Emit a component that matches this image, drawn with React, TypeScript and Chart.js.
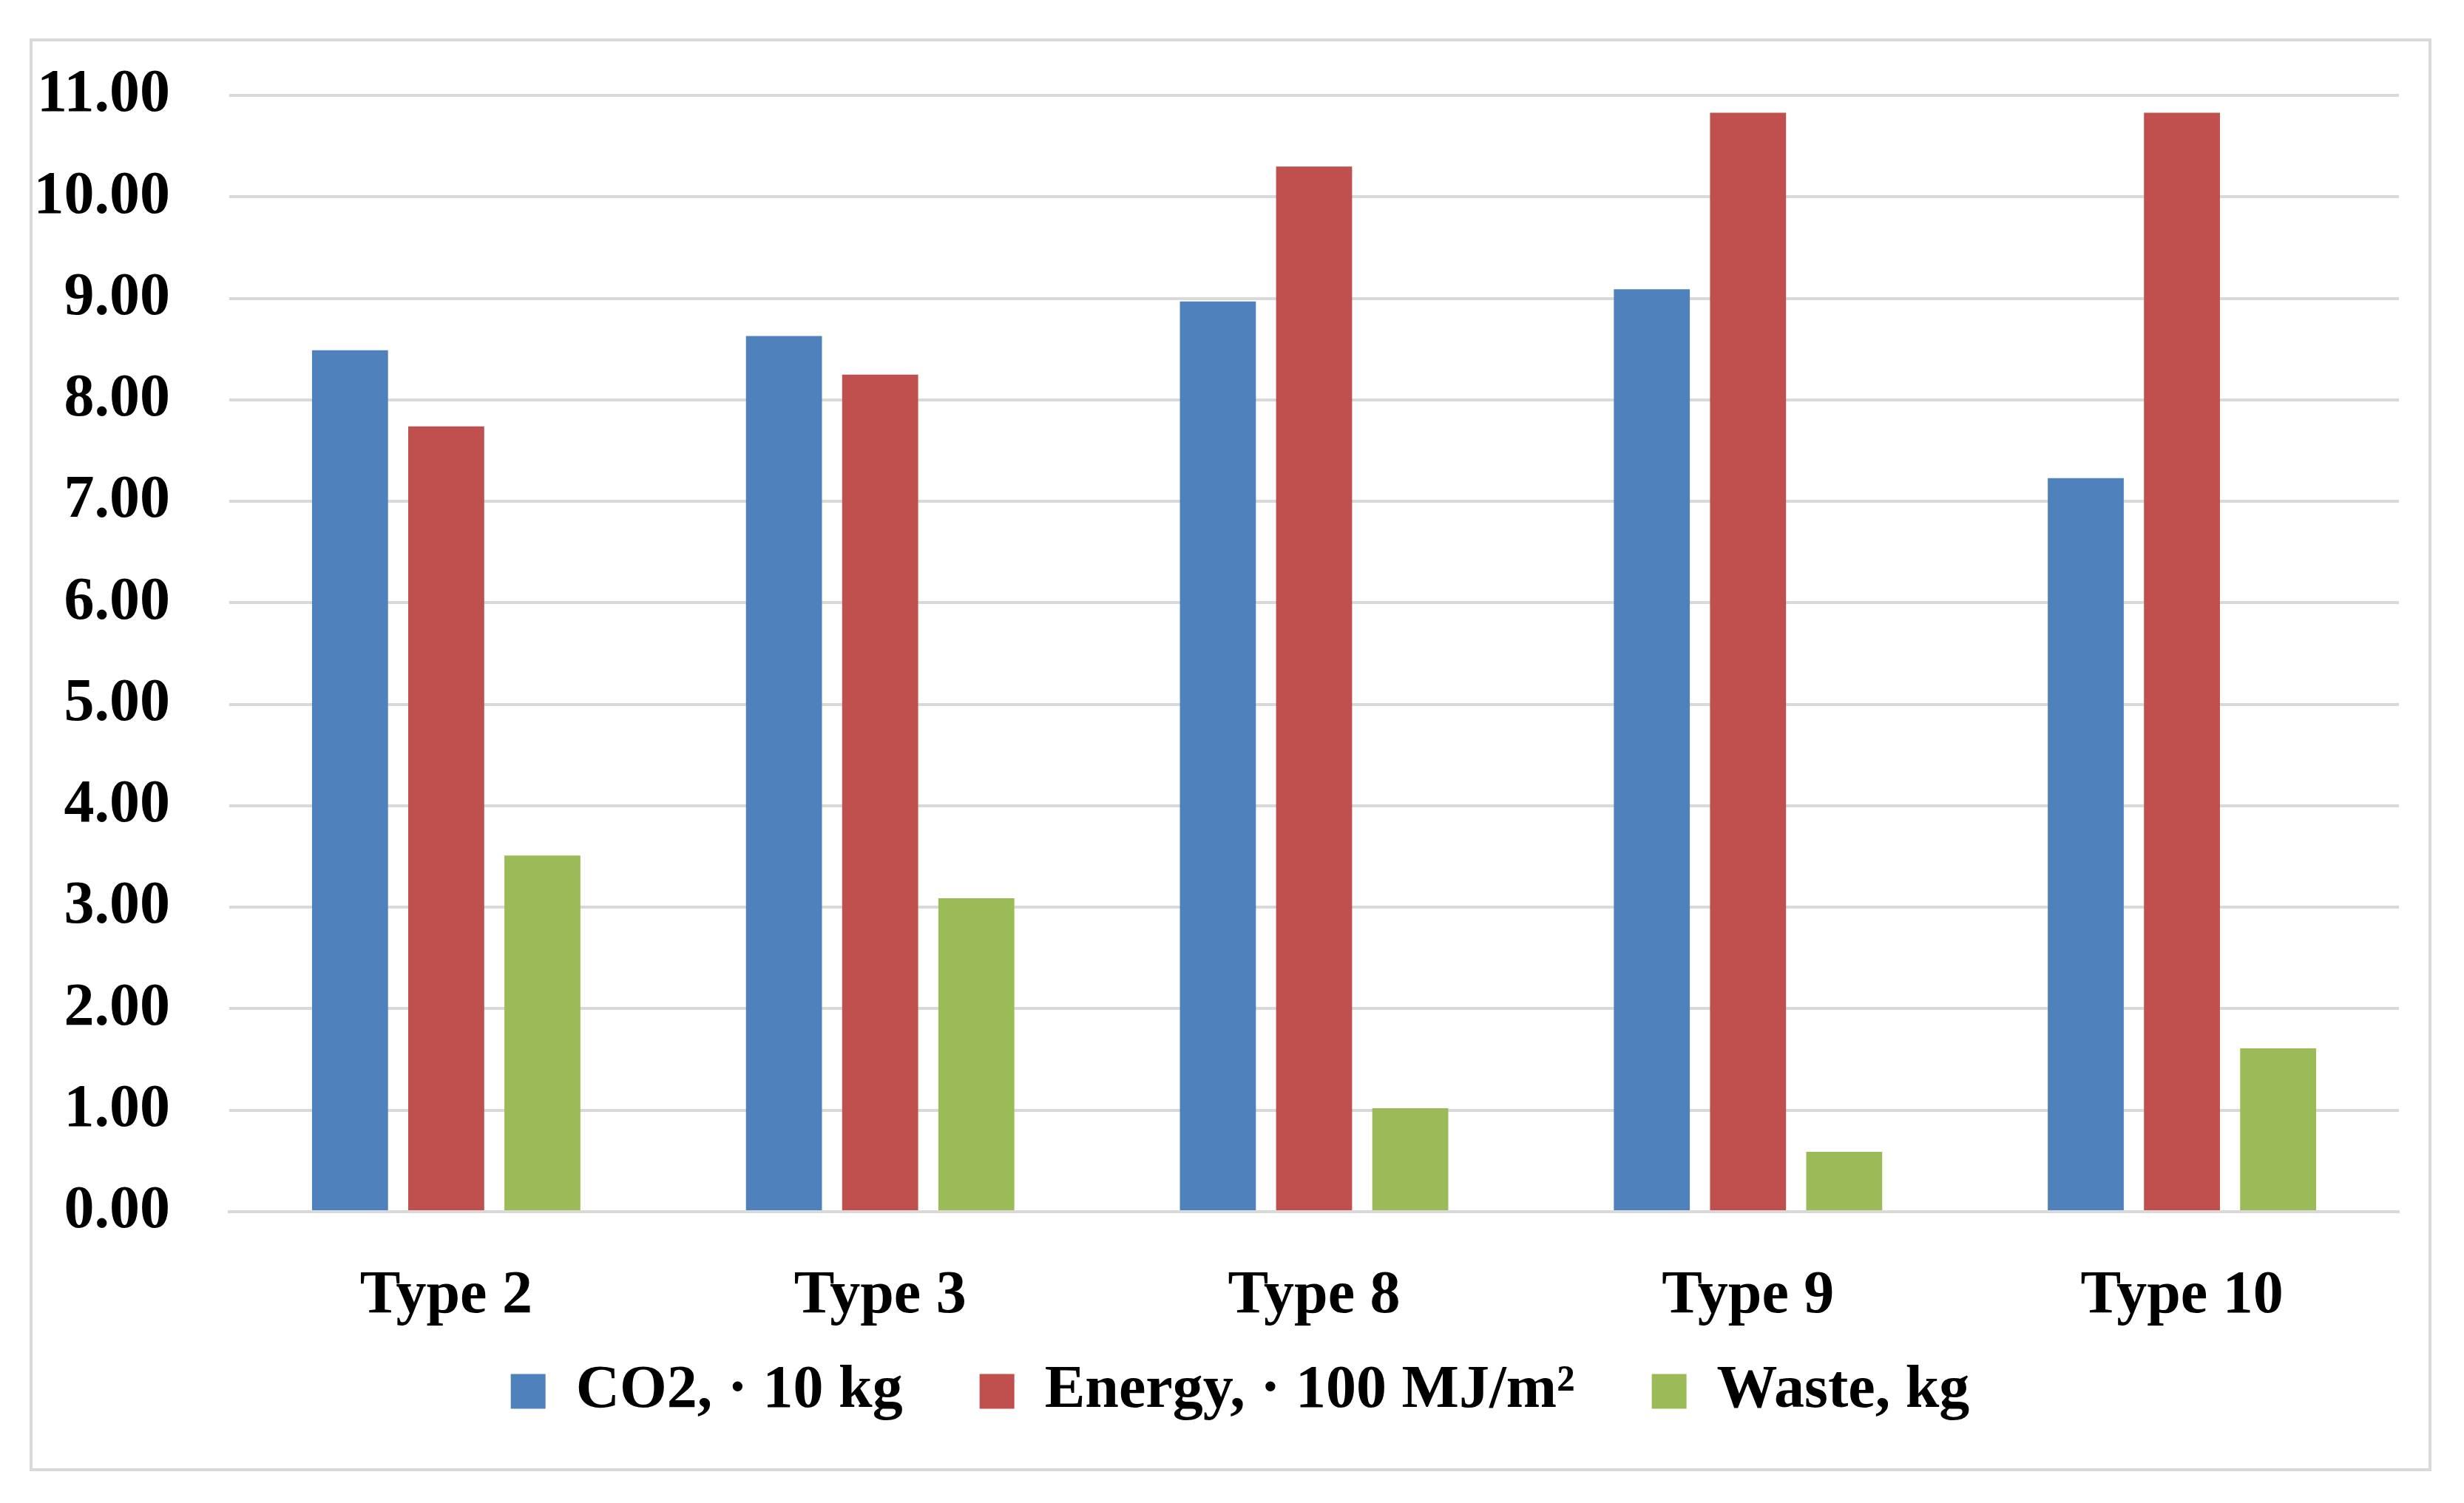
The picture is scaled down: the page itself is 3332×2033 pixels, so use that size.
import React, { useEffect, useRef } from "react";
import { Chart, registerables } from "chart.js";

Chart.register(...registerables);

const categories = ["Type 2", "Type 3", "Type 8", "Type 9", "Type 10"];
const seriesLabels = ["CO2, \u00b7 10 kg", "Energy, \u00b7 100 MJ/m\u00b2", "Waste, kg"];
const co2Values = [8.49, 8.63, 8.97, 9.09, 7.23];
const energyValues = [7.74, 8.25, 10.3, 10.83, 10.83];
const wasteValues = [3.51, 3.09, 1.02, 0.59, 1.61];
const seriesColors = ["#4F81BD", "#C0504D", "#9BBB59"];
const yMin = 0;
const yMax = 11;
const yStep = 1;

const W = 3332;
const H = 2033;
const FONT = { family: '"Liberation Serif", "DejaVu Serif", serif', size: 82, weight: "bold" as const };

const framePlugin = {
  id: "frame",
  beforeDraw(chart: any) {
    const ctx = chart.ctx;
    ctx.save();
    ctx.fillStyle = "#FFFFFF";
    ctx.fillRect(0, 0, chart.width, chart.height);
    ctx.strokeStyle = "#D9D9D9";
    ctx.lineWidth = 4;
    ctx.strokeRect(42, 54, 3286 - 42, 1988 - 54);
    ctx.restore();
  },
};

// shift the legend box so it sits centred under the plot like the original
const legendShiftPlugin = {
  id: "legendShift",
  afterLayout(chart: any) {
    const lg = chart.legend;
    if (!lg) return;
    lg.left += 110;
    lg.top -= 72;
    lg.bottom -= 72;
  },
};

export default function App() {
  const ref = useRef<HTMLCanvasElement | null>(null);

  useEffect(() => {
    if (!ref.current) return;
    const data = [co2Values, energyValues, wasteValues];
    const chart = new Chart(ref.current, {
      type: "bar",
      data: {
        labels: categories,
        datasets: seriesLabels.map((label, i) => ({
          label,
          data: data[i],
          backgroundColor: seriesColors[i],
          borderWidth: 0,
          categoryPercentage: 0.665,
          barPercentage: 0.79,
        })),
      },
      options: {
        animation: false,
        responsive: false,
        devicePixelRatio: 1,
        layout: { padding: { left: 0, right: 88, top: 126, bottom: 28 } },
        plugins: {
          title: { display: false },
          tooltip: { enabled: false },
          legend: {
            display: true,
            position: "bottom",
            labels: {
              color: "#000000",
              font: FONT,
              boxWidth: 47,
              boxHeight: 47,
              padding: 104,
            },
          },
        },
        scales: {
          x: {
            grid: { display: false, drawTicks: false },
            border: { display: true, color: "#D9D9D9", width: 4 },
            ticks: { color: "#000000", font: FONT, padding: 66, maxRotation: 0 },
            afterFit(scale: any) {
              scale.height = 170;
            },
          },
          y: {
            min: yMin,
            max: yMax,
            grid: { color: "#D9D9D9", lineWidth: 4, drawTicks: false },
            border: { display: false },
            ticks: {
              stepSize: yStep,
              color: "#000000",
              font: FONT,
              padding: 80,
              callback: (v: any) => Number(v).toFixed(2),
            },
            afterFit(scale: any) {
              scale.width = 310;
            },
          },
        },
      },
      plugins: [framePlugin, legendShiftPlugin],
    });
    return () => chart.destroy();
  }, []);

  return (
    <div style={{ position: "fixed", left: 0, top: 0, width: W, height: H, background: "#FFFFFF" }}>
      <canvas ref={ref} width={W} height={H} style={{ width: W, height: H, display: "block" }} />
    </div>
  );
}
